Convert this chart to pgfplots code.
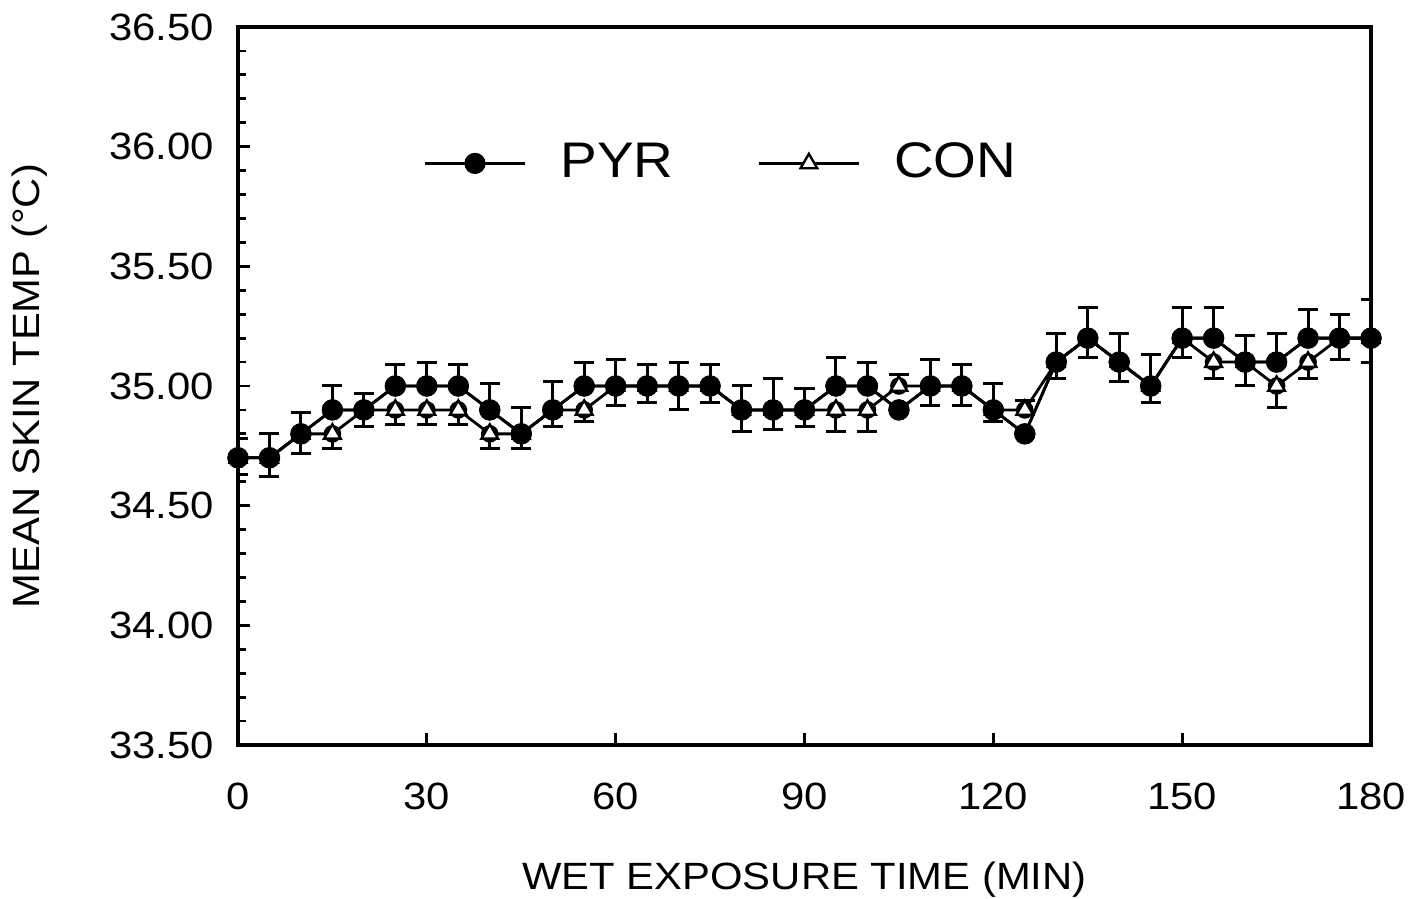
\documentclass[border=0pt]{standalone}
\usepackage{fontspec}
\setmainfont{Liberation Sans}[FakeStretch=1.1]
\usepackage{pgfplots}
\pgfplotsset{compat=1.18}
\usetikzlibrary{calc}

% PYR: mean, + error (drawn upward)
\pgfplotstableread{
x y e
0 34.7 0.08
5 34.7 0.10
10 34.8 0.09
15 34.9 0.10
20 34.9 0.07
25 35.0 0.09
30 35.0 0.10
35 35.0 0.09
40 34.9 0.11
45 34.8 0.11
50 34.9 0.12
55 35.0 0.10
60 35.0 0.11
65 35.0 0.09
70 35.0 0.10
75 35.0 0.09
80 34.9 0.10
85 34.9 0.13
90 34.9 0.09
95 35.0 0.12
100 35.0 0.10
110 35.0 0.11
115 35.0 0.09
120 34.9 0.11
130 35.1 0.12
135 35.2 0.13
140 35.1 0.12
145 35.0 0.13
150 35.2 0.13
155 35.2 0.13
160 35.1 0.11
165 35.1 0.12
170 35.2 0.12
175 35.2 0.10
180 35.2 0.16
}\pyrerr
\pgfplotstableread{
x y
0 34.7
5 34.7
10 34.8
15 34.9
20 34.9
25 35.0
30 35.0
35 35.0
40 34.9
45 34.8
50 34.9
55 35.0
60 35.0
65 35.0
70 35.0
75 35.0
80 34.9
85 34.9
90 34.9
95 35.0
100 35.0
105 34.9
110 35.0
115 35.0
120 34.9
125 34.8
130 35.1
135 35.2
140 35.1
145 35.0
150 35.2
155 35.2
160 35.1
165 35.1
170 35.2
175 35.2
180 35.2
}\pyr
% CON: mean, - error (drawn downward)
\pgfplotstableread{
x y e
0 34.7 0.07
5 34.7 0.08
10 34.8 0.08
15 34.8 0.06
20 34.9 0.07
25 34.9 0.06
30 34.9 0.06
35 34.9 0.06
40 34.8 0.06
45 34.8 0.06
50 34.9 0.07
55 34.9 0.05
60 35.0 0.08
65 35.0 0.07
70 35.0 0.10
75 35.0 0.07
80 34.9 0.09
85 34.9 0.08
90 34.9 0.07
95 34.9 0.09
100 34.9 0.09
110 35.0 0.08
115 35.0 0.08
120 34.9 0.05
130 35.1 0.07
135 35.2 0.08
140 35.1 0.08
145 35.0 0.07
150 35.2 0.08
155 35.1 0.07
160 35.1 0.10
165 35.0 0.09
170 35.1 0.07
175 35.2 0.09
180 35.2 0.10
}\conerr
\pgfplotstableread{
x y
0 34.7
5 34.7
10 34.8
15 34.8
20 34.9
25 34.9
30 34.9
35 34.9
40 34.8
45 34.8
50 34.9
55 34.9
60 35.0
65 35.0
70 35.0
75 35.0
80 34.9
85 34.9
90 34.9
95 34.9
100 34.9
105 35.0
110 35.0
115 35.0
120 34.9
125 34.9
130 35.1
135 35.2
140 35.1
145 35.0
150 35.2
155 35.1
160 35.1
165 35.0
170 35.1
175 35.2
180 35.2
}\con

\begin{document}
\begin{tikzpicture}
\pgfplotsset{errstyle/.style={forget plot, black, only marks, mark=none,
    error bars/y explicit, error bars/error mark=-,
    error bars/error bar style={black, solid, line width=0.75pt},
    error bars/error mark options={black, solid, line width=0.75pt, mark size=2.5pt, rotate=90}}}
\begin{axis}[
    scale only axis,
    width=283.25pt, height=179.5pt,
    xmin=0, xmax=180, ymin=33.5, ymax=36.5,
    xtick={0,30,...,180},
    ytick={33.5,34,34.5,35,35.5,36,36.5},
    minor y tick num=4,
    tick pos=left, tick align=inside,
    major tick length=3pt, minor tick length=2pt,
    axis line style={line width=0.8pt},
    tick style={line width=0.7pt, black},
    yticklabel style={/pgf/number format/fixed, /pgf/number format/fixed zerofill,
        /pgf/number format/precision=2, xshift=-2.5pt},
    /pgf/number format/assume math mode=true,
    ticklabel style={font=\fontsize{9.5}{11}\selectfont},
    xticklabel style={yshift=-6pt},
    xlabel={WET EXPOSURE TIME (MIN)},
    ylabel={MEAN SKIN TEMP (°C)},
    label style={font=\fontsize{9.5}{11}\selectfont},
    xlabel style={at={(axis description cs:0.5,-0.188)}, anchor=center},
    ylabel style={at={(axis description cs:-0.184,0.5)}, anchor=center},
    legend columns=2,
    legend style={draw=none, fill=none, at={(axis description cs:0.429,0.81)}, anchor=center,
        font=\fontsize{12.5}{14}\selectfont,
        /tikz/every even column/.append style={column sep=19pt},
        /tikz/every odd column/.append style={column sep=6.5pt}},
    legend image code/.code={\draw[mark repeat=2,mark phase=2] plot coordinates {(0pt,0pt) (12.5pt,0pt) (25pt,0pt)};},
    legend cell align=left,
]
% error bars first, so markers sit on top
\addplot[errstyle, error bars/y dir=plus] table[x=x, y=y, y error=e] {\pyrerr};
\addplot[errstyle, error bars/y dir=minus] table[x=x, y=y, y error=e] {\conerr};
\addplot[errstyle, error bars/y dir=plus]
    coordinates {(105,35.0) +- (0,0.05) (125,34.9) +- (0,0.04)};

\addplot[black, line width=0.7pt, mark=*, mark size=2.3pt] table[x=x, y=y] {\pyr};
\addplot[black, line width=0.7pt, mark=triangle*, mark size=2.4pt,
    mark options={fill=white, line width=0.6pt}] table[x=x, y=y] {\con};
% PYR again on top, so filled dots cover triangles where the means coincide
\addplot[forget plot, black, line width=0.7pt, mark=*, mark size=2.3pt] table[x=x, y=y] {\pyr};
\legend{PYR, CON}
\end{axis}
\pgfresetboundingbox
\path[use as bounding box] ($(current axis.south west)+(-59.5pt,-38.5pt)$) rectangle ($(current axis.north east)+(10.75pt,6.75pt)$);
\end{tikzpicture}
\end{document}
